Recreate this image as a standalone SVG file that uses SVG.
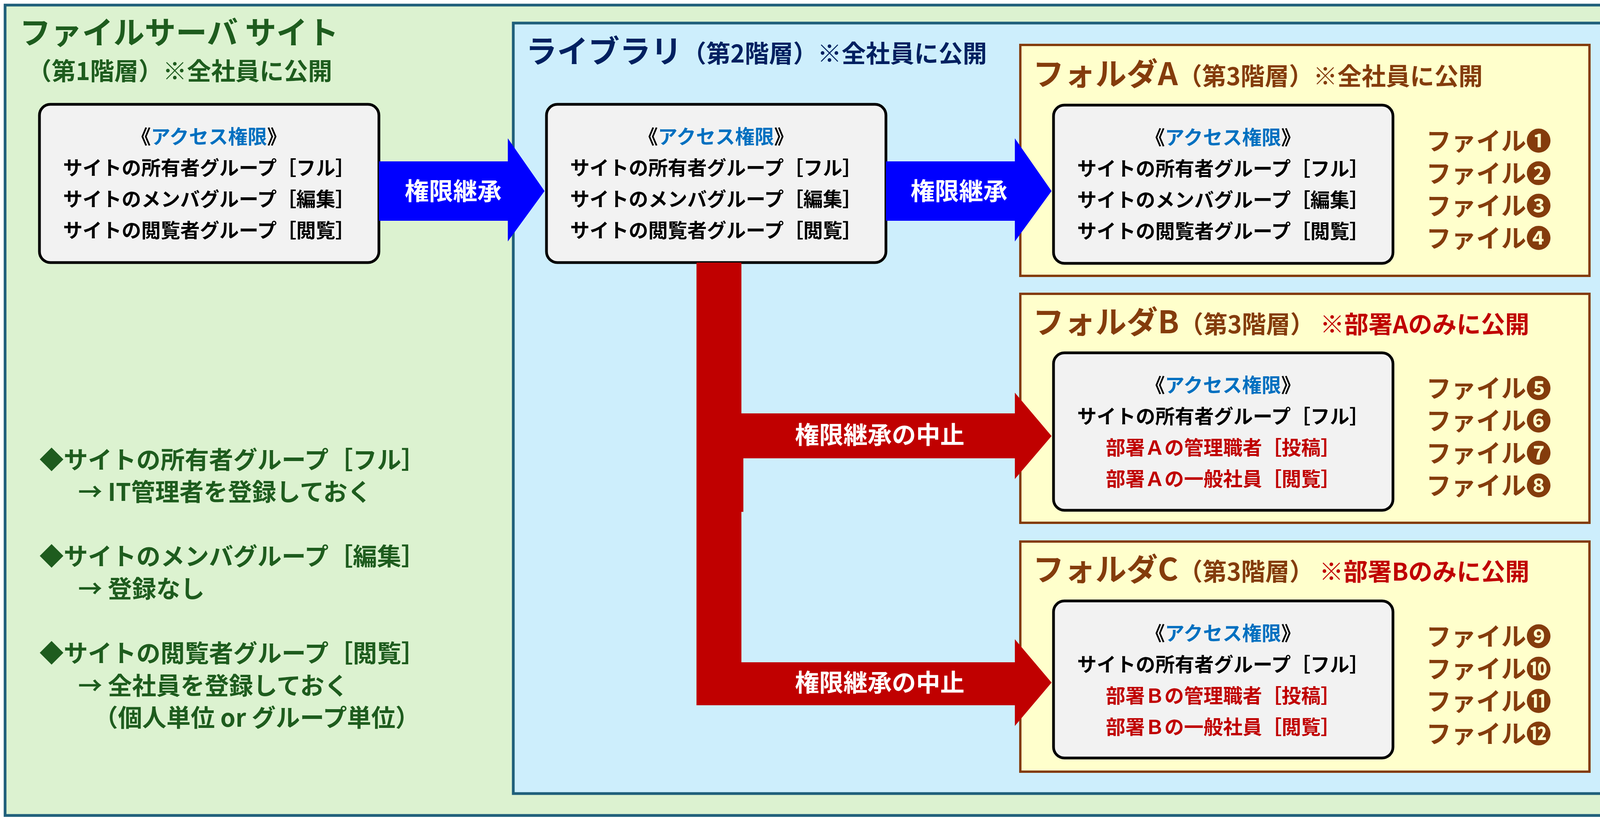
<svg xmlns="http://www.w3.org/2000/svg" width="4179" height="2091" viewBox="0 0 4179 2091">
<style>
text{font-family:"Noto Sans CJK JP","Noto Sans",sans-serif;font-weight:bold}
.pb{fill:#f2f2f2;stroke:#000;stroke-width:7}
.pt{font-size:50px;text-anchor:middle;fill:#000}
.ac{fill:#0070c0}
.rd{fill:#c00000}
.fd{fill:#ffffcc;stroke:#843c0c;stroke-width:6}
.ft{fill:#843c0c}
.fl{font-size:64px;fill:#843c0c}
.gl{font-size:62px;fill:#1e5c1e}
.al{font-size:62px;fill:#fff;text-anchor:middle}
</style>
<rect x="13" y="13" width="4153" height="2074" fill="#dcf2d0" stroke="#1f5f7a" stroke-width="7"/>
<g id="site">
<text x="50" y="112" font-size="80" fill="#1e5c1e">ファイルサーバ サイト</text>
<text x="70" y="205" font-size="62" fill="#1e5c1e">（第1階層）※全社員に公開</text>
<rect class="pb" x="101" y="267" width="869" height="405" rx="28"/>
<text class="pt" x="535" y="368">《<tspan class="ac">アクセス権限</tspan>》</text>
<text class="pt" x="535" y="448">サイトの所有者グループ［フル］</text>
<text class="pt" x="535" y="528">サイトのメンバグループ［編集］</text>
<text class="pt" x="535" y="608">サイトの閲覧者グループ［閲覧］</text>
<text class="gl" x="101" y="1200">◆サイトの所有者グループ［フル］</text>
<text class="gl" x="200" y="1282">→ IT管理者を登録しておく</text>
<text class="gl" x="101" y="1447">◆サイトのメンバグループ［編集］</text>
<text class="gl" x="200" y="1530">→ 登録なし</text>
<text class="gl" x="101" y="1695">◆サイトの閲覧者グループ［閲覧］</text>
<text class="gl" x="200" y="1778">→ 全社員を登録しておく</text>
<text class="gl" x="240" y="1860">（個人単位 or グループ単位）</text>
</g>
<g id="library">
<rect x="1314" y="59" width="2825" height="1972" fill="#cdeefc" stroke="#1f5f7a" stroke-width="7"/>
<text x="1346" y="160" font-size="80" fill="#002060">ライブラリ<tspan font-size="62">（第2階層）※全社員に公開</tspan></text>
<rect class="pb" x="1399" y="267" width="869" height="405" rx="28"/>
<text class="pt" x="1833" y="368">《<tspan class="ac">アクセス権限</tspan>》</text>
<text class="pt" x="1833" y="448">サイトの所有者グループ［フル］</text>
<text class="pt" x="1833" y="528">サイトのメンバグループ［編集］</text>
<text class="pt" x="1833" y="608">サイトの閲覧者グループ［閲覧］</text>
</g>
<g id="folderA">
<rect class="fd" x="2612" y="115" width="1457" height="591"/>
<text x="2644" y="218" font-size="80" class="ft">フォルダA<tspan font-size="62">（第3階層）※全社員に公開</tspan></text>
<rect class="pb" x="2697" y="269" width="869" height="405" rx="28"/>
<text class="pt" x="3131" y="370">《<tspan class="ac">アクセス権限</tspan>》</text>
<text class="pt" x="3131" y="450">サイトの所有者グループ［フル］</text>
<text class="pt" x="3131" y="530">サイトのメンバグループ［編集］</text>
<text class="pt" x="3131" y="610">サイトの閲覧者グループ［閲覧］</text>
<text class="fl" x="3651" y="384">ファイル❶</text>
<text class="fl" x="3651" y="467">ファイル❷</text>
<text class="fl" x="3651" y="550">ファイル❸</text>
<text class="fl" x="3651" y="633">ファイル❹</text>
</g>
<g id="folderB">
<rect class="fd" x="2612" y="752" width="1457" height="586"/>
<text x="2644" y="853" font-size="80" class="ft">フォルダB<tspan font-size="62">（第3階層） <tspan class="rd">※部署Aのみに公開</tspan></tspan></text>
<rect class="pb" x="2697" y="903" width="869" height="403" rx="28"/>
<text class="pt" x="3131" y="1004">《<tspan class="ac">アクセス権限</tspan>》</text>
<text class="pt" x="3131" y="1084">サイトの所有者グループ［フル］</text>
<text class="pt rd" x="3131" y="1164">部署Ａの管理職者［投稿］</text>
<text class="pt rd" x="3131" y="1244">部署Ａの一般社員［閲覧］</text>
<text class="fl" x="3651" y="1017">ファイル❺</text>
<text class="fl" x="3651" y="1100">ファイル❻</text>
<text class="fl" x="3651" y="1183">ファイル❼</text>
<text class="fl" x="3651" y="1266">ファイル❽</text>
</g>
<g id="folderC">
<rect class="fd" x="2612" y="1386" width="1457" height="589"/>
<text x="2644" y="1486" font-size="80" class="ft">フォルダC<tspan font-size="62">（第3階層） <tspan class="rd">※部署Bのみに公開</tspan></tspan></text>
<rect class="pb" x="2697" y="1538" width="869" height="402" rx="28"/>
<text class="pt" x="3131" y="1639">《<tspan class="ac">アクセス権限</tspan>》</text>
<text class="pt" x="3131" y="1719">サイトの所有者グループ［フル］</text>
<text class="pt rd" x="3131" y="1799">部署Ｂの管理職者［投稿］</text>
<text class="pt rd" x="3131" y="1879">部署Ｂの一般社員［閲覧］</text>
<text class="fl" x="3651" y="1652">ファイル❾</text>
<text class="fl" x="3651" y="1735">ファイル❿</text>
<text class="fl" x="3651" y="1818">ファイル⓫</text>
<text class="fl" x="3651" y="1901">ファイル⓬</text>
</g>
<g id="connectors">
<polygon fill="#0000ff" points="970,413 1300,413 1300,354 1394,489 1300,618 1300,565 970,565"/>
<text class="al" x="1160" y="512">権限継承</text>
<polygon fill="#0000ff" points="2268,413 2598,413 2598,354 2692,489 2598,618 2598,565 2268,565"/>
<text class="al" x="2455" y="512">権限継承</text>
<polygon fill="#c00000" points="1783,672 1898,672 1898,1058 2598,1058 2598,1005 2692,1116 2598,1226 2598,1173 1783,1173"/>
<text class="al" x="2252" y="1136">権限継承の中止</text>
<polygon fill="#c00000" points="1783,1173 1903,1173 1903,1310 1898,1310 1898,1695 2598,1695 2598,1636 2692,1747 2598,1858 2598,1805 1783,1805"/>
<text class="al" x="2252" y="1770">権限継承の中止</text>
</g>
</svg>
